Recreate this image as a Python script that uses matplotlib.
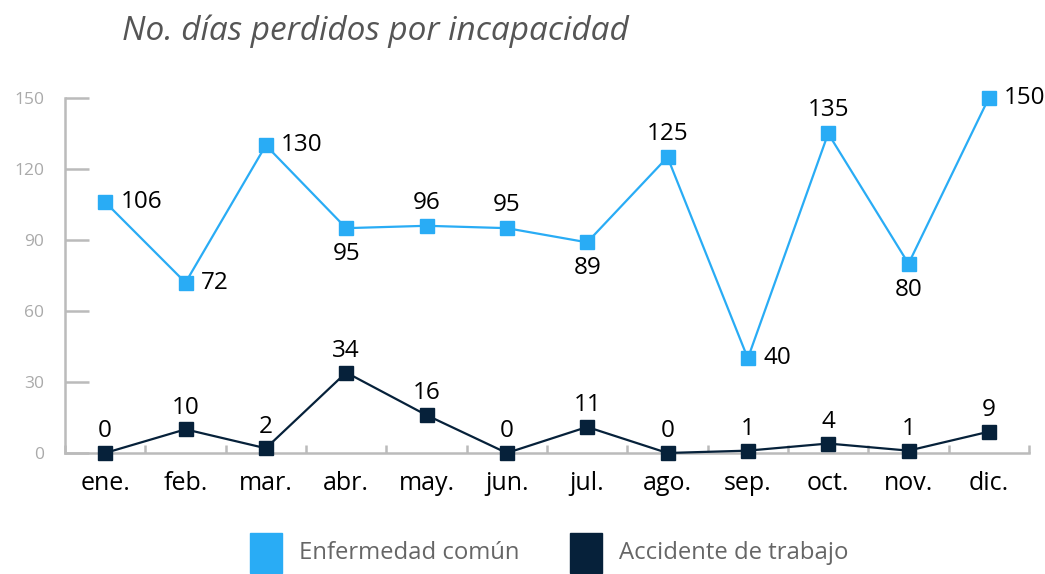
import matplotlib
matplotlib.use("Agg")
import matplotlib.pyplot as plt
from matplotlib.patches import Rectangle

plt.rcParams["font.family"] = ["Open Sans", "DejaVu Sans"]

meses = ["ene.", "feb.", "mar.", "abr.", "may.", "jun.",
         "jul.", "ago.", "sep.", "oct.", "nov.", "dic."]
enfermedad = [106, 72, 130, 95, 96, 95, 89, 125, 40, 135, 80, 150]
accidente = [0, 10, 2, 34, 16, 0, 11, 0, 1, 4, 1, 9]
# where each value label of the upper series sits
pos_enf = ["r", "r", "r", "b", "t", "t", "b", "t", "r", "t", "b", "r"]

C_ENF = "#29ACF5"
C_ACC = "#06213A"
GRIS = "#BBBBBB"

fig = plt.figure(figsize=(10.45, 5.74), dpi=100)
ax = fig.add_axes([0.0622, 0.2108, 0.9225, 0.6185])

x = list(range(len(meses)))
ax.plot(x, enfermedad, color=C_ENF, lw=1.6, marker="s", ms=10.5, clip_on=False, zorder=3)
ax.plot(x, accidente, color=C_ACC, lw=1.6, marker="s", ms=10.5, clip_on=False, zorder=3)

for i, (v, p) in enumerate(zip(enfermedad, pos_enf)):
    if p == "r":
        ax.annotate(str(v), (i, v), xytext=(11, 0), textcoords="offset points",
                    ha="left", va="center", fontsize=17.5)
    elif p == "t":
        ax.annotate(str(v), (i, v), xytext=(0, 8), textcoords="offset points",
                    ha="center", va="bottom", fontsize=17.5)
    else:
        ax.annotate(str(v), (i, v), xytext=(0, -10), textcoords="offset points",
                    ha="center", va="top", fontsize=17.5)
for i, v in enumerate(accidente):
    ax.annotate(str(v), (i, v), xytext=(0, 7), textcoords="offset points",
                ha="center", va="bottom", fontsize=17.5)

ax.set_xlim(-0.5, 11.5)
ax.set_ylim(0, 150)
ax.set_yticks([0, 30, 60, 90, 120, 150])
ax.tick_params(axis="y", direction="in", length=17, width=1.8, color=GRIS,
               labelcolor="#AAAAAA", labelsize=12.5, pad=15)
ax.set_xticks(x)
ax.set_xticklabels(meses, fontsize=18)
ax.tick_params(axis="x", length=0, pad=13)
ax.set_xticks([i + 0.5 for i in range(-1, 12)], minor=True)
ax.tick_params(axis="x", which="minor", direction="in", length=6, width=1.8, color=GRIS)
for s in ["top", "right"]:
    ax.spines[s].set_visible(False)
for s in ["left", "bottom"]:
    ax.spines[s].set_color(GRIS)
    ax.spines[s].set_linewidth(1.8)

fig.text(0.117, 0.945, "No. días perdidos por incapacidad", fontsize=24,
         style="italic", color="#555555", va="center", ha="left")

# legend
fig.patches.append(Rectangle((250 / 1045, 1 - 573 / 574), 32 / 1045, 40 / 574,
                             transform=fig.transFigure, color=C_ENF))
fig.text(299 / 1045, 1 - 553 / 574, "Enfermedad común", fontsize=17.2,
         color="#666666", va="center", ha="left")
fig.patches.append(Rectangle((570 / 1045, 1 - 573 / 574), 32 / 1045, 40 / 574,
                             transform=fig.transFigure, color=C_ACC))
fig.text(619 / 1045, 1 - 553 / 574, "Accidente de trabajo", fontsize=17.2,
         color="#666666", va="center", ha="left")

fig.savefig("out.png", dpi=100)
